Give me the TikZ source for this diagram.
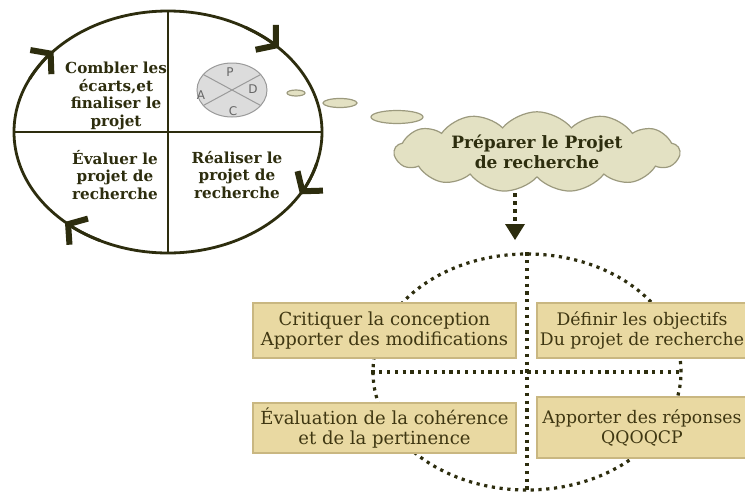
\documentclass[tikz,border=0pt]{standalone}
\usepackage{tikz}
\usepackage{amsfonts}
\usepackage{amsmath}
\usepackage{fontspec}
\setmainfont{DejaVu Serif}
\setsansfont{DejaVu Sans}
\usetikzlibrary{arrows.meta,shapes.geometric,shapes.symbols}
\definecolor{cycleink}{HTML}{2D2D0E}
\definecolor{boxfill}{HTML}{E9D9A2}
\definecolor{boxline}{HTML}{C9B781}
\definecolor{boxink}{HTML}{3F3712}
\definecolor{cloudfill}{HTML}{E3E1C3}
\definecolor{cloudline}{HTML}{9C9A7E}
\definecolor{pdcafill}{HTML}{DCDCDC}
\definecolor{pdcaline}{HTML}{9A9A9A}

\begin{document}
\begin{tikzpicture}[x=1pt,y=1pt]
\tikzstyle{every node}+=[inner sep=0pt]
\tikzstyle{cyclearrow}=[cycleink,line width=3pt,-{Straight Barb[length=13pt,width=32pt,line width=6pt]}]
\tikzstyle{cycletext}=[text=cycleink,align=center,font=\fontsize{15.2}{17.5}\selectfont\bfseries]
\tikzstyle{stagebox}=[draw=boxline,fill=boxfill,line width=1.2pt,text=boxink,align=center,
  minimum width=263pt,minimum height=55pt,font=\fontsize{18}{20}\selectfont]
\tikzstyle{rightbox}=[stagebox,minimum width=210pt,font=\fontsize{17.3}{20}\selectfont]
\tikzstyle{dotline}=[draw=cycleink,line width=3.2pt,dash pattern=on 3.2pt off 4.6pt]
\tikzstyle{pdcaletter}=[text=black!60,font=\sffamily\fontsize{12}{12}\selectfont]
\clip (0,0) rectangle (745,-493);
\fill [white] (0,0) rectangle (745,-493);
\draw [cycleink,line width=2.8pt] (168,-132) ellipse [x radius=154, y radius=121];
\draw [cycleink,line width=2.8pt] (168,-11) -- (168,-253);
\draw [cycleink,line width=2.8pt] (14,-132) -- (322,-132);
\draw [cyclearrow] (168,-132) ++(60:154 and 121) arc [start angle=60, end angle=44, x radius=154, y radius=121];
\draw [cyclearrow] (168,-132) ++(-15:154 and 121) arc [start angle=-15, end angle=-31, x radius=154, y radius=121];
\draw [cyclearrow] (168,-132) ++(244:154 and 121) arc [start angle=244, end angle=228, x radius=154, y radius=121];
\draw [cyclearrow] (168,-132) ++(154:154 and 121) arc [start angle=154, end angle=138, x radius=154, y radius=121];
\draw (116,-96) node [cycletext] (combler) {Combler les\\écarts,et\\finaliser le\\projet};
\draw (115,-175) node [cycletext] (evaluer) {Évaluer le\\projet de\\recherche};
\draw (237,-175) node [cycletext] (realiser) {Réaliser le\\projet de\\recherche};
\draw [pdcaline,fill=pdcafill,line width=1pt] (232,-90) ellipse [x radius=35, y radius=27];
\draw [pdcaline,line width=1pt] (232,-90) +(145:35 and 27) -- +(325:35 and 27);
\draw [pdcaline,line width=1pt] (232,-90) +(35:35 and 27) -- +(215:35 and 27);
\draw (230,-72) node [pdcaletter] (p) {P};
\draw (253,-89) node [pdcaletter] (d) {D};
\draw (233,-111) node [pdcaletter] (c) {C};
\draw (201,-95) node [pdcaletter] (a) {A};
\draw [cloudline,fill=cloudfill,line width=1.2pt] (296,-93) ellipse [x radius=9, y radius=3];
\draw [cloudline,fill=cloudfill,line width=1.2pt] (340,-103) ellipse [x radius=17, y radius=4.5];
\draw [cloudline,fill=cloudfill,line width=1.2pt] (397,-117) ellipse [x radius=26, y radius=6.5];
\draw (537,-152) node [cloud,cloud puffs=13,cloud puff arc=100,aspect=4.4,draw=cloudline,fill=cloudfill,
  line width=1.2pt,minimum width=285pt,minimum height=62pt,text=cycleink,align=center,
  font=\fontsize{17}{20}\selectfont\bfseries] (prep) {Préparer le Projet\\de recherche};
\draw (527,-372) node [ellipse,dotline,minimum width=308pt,minimum height=236pt] (cadre) {};
\draw [dotline] (cadre.north) -- (cadre.south);
\draw [dotline] (cadre.west) -- (cadre.east);
\draw [dotline,line width=4.2pt,dash pattern=on 4.2pt off 3.8pt,shorten >=12pt,
  -{Triangle[length=16pt,width=20pt,line width=0pt]}] (515,-193) -- (515,-252);
\draw (384.5,-330.5) node [stagebox] (critiquer) {Critiquer la conception\\Apporter des modifications};
\draw (642,-330.5) node [rightbox] (definir) {Définir les objectifs\\Du projet de recherche};
\draw (384.5,-428) node [stagebox,minimum height=50pt] (evaluation) {Évaluation de la cohérence\\et de la pertinence};
\draw (642,-427.5) node [rightbox,minimum height=61pt] (reponses) {Apporter des réponses\\QQOQCP};
\end{tikzpicture}
\end{document}
